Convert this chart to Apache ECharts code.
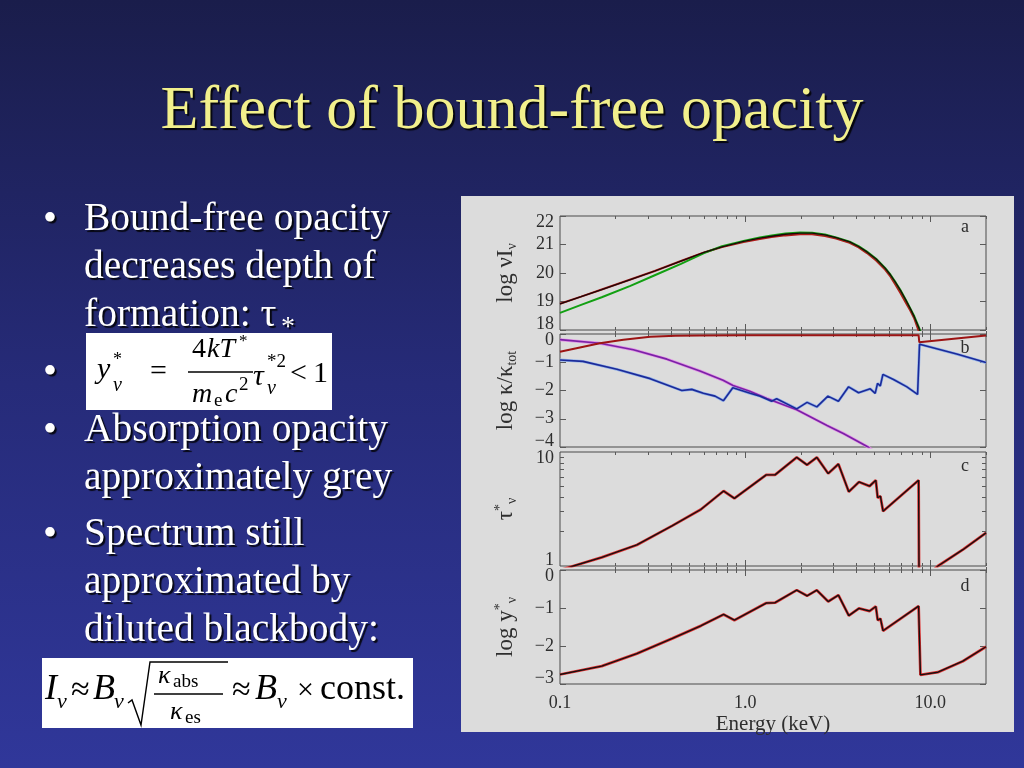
<!DOCTYPE html>
<html><head><meta charset="utf-8">
<script src="https://cdn.jsdelivr.net/npm/echarts@6/dist/echarts.min.js"></script>
<style>html,body{margin:0;padding:0;background:#222766;}#c{width:1024px;height:768px;}</style>
</head><body><div id="c"></div>
<script>
// ---------------- data ----------------
const energyTicksMajor = [0.1, 1, 10];
const energyTicksMinor = [0.2,0.3,0.4,0.5,0.6,0.7,0.8,0.9,2,3,4,5,6,7,8,9,20];
const tauTicksMajor = [1, 10];
const tauTicksMinor = [2,3,4,5,6,7,8,9];

// panel a : log nu I_nu
const nuI_red = [[0.1,18.92],[0.13,19.17],[0.168,19.42],[0.24,19.77],[0.325,20.07],[0.45,20.42],[0.6,20.72],[0.75,20.91],[0.98,21.09],[1.2,21.19],[1.39,21.26],[1.65,21.32],[1.98,21.36],[2.3,21.36],[2.7,21.3],[3.1,21.21],[3.67,21.06],[4.1,20.9],[4.55,20.7],[5.1,20.44],[5.7,20.12],[6.1,19.87],[6.5,19.58],[6.9,19.3],[7.42,18.93],[7.8,18.68],[8.2,18.4],[8.65,17.98],[8.9,17.7]];
const nuI_green = [[0.1,18.6],[0.13,18.88],[0.168,19.15],[0.24,19.55],[0.325,19.92],[0.45,20.32],[0.6,20.7],[0.75,20.94],[0.98,21.12],[1.2,21.25],[1.39,21.32],[1.65,21.39],[1.98,21.42],[2.3,21.41],[2.7,21.35],[3.1,21.25],[3.67,21.1],[4.1,20.94],[4.55,20.75],[5.1,20.5],[5.7,20.18],[6.1,19.94],[6.5,19.67],[6.9,19.4],[7.42,19.03],[7.8,18.76],[8.2,18.48],[8.65,18.12],[9.1,17.75]];
const nuI_black = [[0.1,18.92],[0.13,19.17],[0.168,19.42],[0.24,19.77],[0.325,20.07],[0.45,20.42],[0.6,20.72],[0.75,20.92],[0.98,21.11],[1.2,21.22],[1.39,21.29],[1.65,21.36],[1.98,21.4],[2.3,21.4],[2.7,21.34],[3.1,21.24],[3.67,21.09],[4.1,20.93],[4.55,20.74],[5.1,20.49],[5.7,20.17],[6.1,19.93],[6.5,19.66],[6.9,19.39],[7.42,19.02],[7.8,18.75],[8.2,18.46],[8.65,18.1],[9.05,17.75]];

// panel b : log kappa / kappa_tot
const kap_red = [[0.1,-0.63],[0.13,-0.47],[0.164,-0.33],[0.22,-0.2],[0.307,-0.1],[0.42,-0.06],[0.57,-0.05],[1.0,-0.04],[8.65,-0.04],[8.72,-0.29],[20,-0.05]];
const kap_magenta = [[0.1,-0.2],[0.164,-0.33],[0.249,-0.56],[0.378,-0.89],[0.57,-1.31],[0.76,-1.64],[0.86,-1.82],[1.06,-2.03],[1.31,-2.28],[1.9,-2.68],[2.77,-3.24],[3.39,-3.52],[4.64,-4.01],[5.5,-4.4]];
const kap_blue = [[0.1,-0.92],[0.133,-0.97],[0.203,-1.25],[0.307,-1.58],[0.455,-2.0],[0.515,-1.96],[0.595,-2.1],[0.688,-2.2],[0.763,-2.36],[0.858,-1.9],[1.065,-2.1],[1.205,-2.2],[1.39,-2.38],[1.48,-2.29],[1.9,-2.65],[2.16,-2.42],[2.44,-2.58],[2.8,-2.2],[3.19,-2.38],[3.62,-1.87],[4.1,-2.08],[4.74,-1.94],[5.04,-2.1],[5.19,-1.75],[5.37,-1.84],[5.55,-1.43],[6.33,-1.61],[7.48,-1.87],[8.54,-2.14],[8.75,-0.36],[13.9,-0.71],[20,-1.01]];

// panel c : tau*_nu
const tau_star = [[0.1,0.92],[0.118,1.0],[0.168,1.19],[0.26,1.53],[0.405,2.26],[0.576,3.13],[0.765,4.55],[0.875,3.92],[1.3,6.3],[1.45,6.3],[1.9,8.98],[2.16,7.72],[2.44,8.98],[2.81,6.47],[3.19,7.83],[3.63,4.49],[4.12,5.46],[4.7,5.02],[5.08,5.65],[5.2,3.97],[5.38,4.1],[5.56,3.02],[8.65,5.65],[8.7,0.7],[11,1.0],[15,1.39],[20,1.95]];

// panel d : log y*_nu
const logy_star = [[0.1,-2.75],[0.168,-2.53],[0.26,-2.2],[0.405,-1.8],[0.576,-1.47],[0.765,-1.17],[0.875,-1.32],[1.3,-0.87],[1.45,-0.86],[1.9,-0.53],[2.16,-0.68],[2.44,-0.53],[2.81,-0.83],[3.19,-0.66],[3.63,-1.2],[4.12,-1.01],[4.7,-1.08],[5.08,-0.96],[5.2,-1.32],[5.38,-1.28],[5.56,-1.6],[8.65,-0.95],[8.85,-2.76],[11,-2.69],[15,-2.4],[20,-2.02]];

// texts
const titleText = 'Effect of bound-free opacity';
const bulletText = ['Bound-free opacity','decreases depth of','formation: τ','Absorption opacity','approximately grey','Spectrum still','approximated by','diluted blackbody:'];
const panelLetters = ['a','b','c','d'];
const axisNames = ['log νI{sub|ν}','log κ/κ{sub|tot}','{g|τ}{sup|*}{sub|ν}','log y{sup|*}{sub|ν}'];
const xAxisName = 'Energy (keV)';

// ---------------- layout ----------------
const SERIF = '"Liberation Serif","Times New Roman",serif';
const AX = '#4a4a4a';
const TXT = '#2e2e2e';
const panels = [
  {top:216, height:114, type:'value', min:18, max:22},
  {top:334, height:113, type:'value', min:-4, max:0},
  {top:452, height:114, type:'log',   min:1,  max:10},
  {top:570, height:114, type:'value', min:-3, max:0}
];

function fmtE(v){
  if (Math.abs(v-0.1)<1e-6) return '0.1';
  if (Math.abs(v-1)<1e-6) return '1.0';
  if (Math.abs(v-10)<1e-6) return '10.0';
  return '';
}
function fmtY(min,max){
  return function(v){
    const r = Math.round(v);
    const s = r<0 ? '\u2212'+Math.abs(r) : String(r);
    if (Math.abs(v-max)<1e-6) return '{hi|'+s+'}';
    if (Math.abs(v-min)<1e-6) return '{lo|'+s+'}';
    return s;
  };
}
const labRich = {
  hi:{fontFamily:SERIF,fontSize:18,color:TXT,padding:[12,0,0,0]},
  lo:{fontFamily:SERIF,fontSize:18,color:TXT,padding:[0,0,12,0]}
};
const nameRich = {
  sub:{fontFamily:SERIF,fontSize:14,color:TXT,verticalAlign:'bottom',lineHeight:12},
  sup:{fontFamily:SERIF,fontSize:14,color:TXT,verticalAlign:'top',lineHeight:12},
  g:{fontFamily:SERIF,fontSize:23,color:TXT,lineHeight:26}
};

const grid=[], xAxis=[], yAxis=[], yLeft=[];
panels.forEach((p,i)=>{
  grid.push({left:560, width:426, top:p.top, height:p.height, show:true, borderColor:AX, borderWidth:1,
             backgroundColor:'rgba(0,0,0,0)', containLabel:false, outerBoundsMode:'none'});
  const last = i===panels.length-1;
  const xb = () => ({type:'log', logBase:10, gridIndex:i, min:0.1, max:20,
    axisLine:{show:false}, splitLine:{show:false}, axisLabel:{show:false}});
  const tk = (vals,len)=>({show:true, inside:true, length:len, customValues:vals, lineStyle:{color:'#5a5a5a',width:1}});
  xAxis.push(Object.assign(xb(), {position:'bottom', axisTick:tk([1,10],6),
    axisLabel: last ? {show:true, customValues:energyTicksMajor, formatter:fmtE, fontFamily:SERIF, fontSize:18, color:TXT, margin:10} : {show:false},
    name: last ? xAxisName : '', nameLocation:'middle', nameGap:30,
    nameTextStyle:{fontFamily:SERIF, fontSize:21, color:TXT}}));
  xAxis.push(Object.assign(xb(), {position:'bottom', axisTick:tk(energyTicksMinor,3)}));
  xAxis.push(Object.assign(xb(), {position:'top', axisTick:tk([1,10],6)}));
  xAxis.push(Object.assign(xb(), {position:'top', axisTick:tk(energyTicksMinor,3)}));

  const common = {gridIndex:i, min:p.min, max:p.max, splitLine:{show:false}, axisLine:{show:false}};
  const nm = {name:axisNames[i], nameLocation:'middle', nameRotate:90, nameGap:41,
      nameTextStyle:{fontFamily:SERIF, fontSize:23, color:TXT, lineHeight:26, rich:nameRich}};
  yLeft.push(yAxis.length);
  if (p.type==='value'){
    yAxis.push(Object.assign({type:'value', interval:1, position:'left'}, common, nm, {
      axisTick:{show:true, inside:true, length:6, lineStyle:{color:'#5a5a5a'}},
      axisLabel:{show:true, formatter:fmtY(p.min,p.max), fontFamily:SERIF, fontSize:18, color:TXT, margin:6, rich:labRich}}));
    yAxis.push(Object.assign({type:'value', interval:1, position:'right'}, common, {
      axisTick:{show:true, inside:true, length:6, lineStyle:{color:'#5a5a5a'}}, axisLabel:{show:false}}));
  } else {
    yAxis.push(Object.assign({type:'log', logBase:10, position:'left'}, common, nm, {
      axisTick:{show:true, inside:true, length:4, customValues:tauTicksMinor, lineStyle:{color:'#5a5a5a'}},
      axisLabel:{show:true, customValues:tauTicksMajor, formatter:fmtY(p.min,p.max), fontFamily:SERIF, fontSize:18, color:TXT, margin:6, rich:labRich}}));
    yAxis.push(Object.assign({type:'log', logBase:10, position:'right'}, common, {
      axisTick:{show:true, inside:true, length:4, customValues:tauTicksMinor, lineStyle:{color:'#5a5a5a'}}, axisLabel:{show:false}}));
  }
});

function line(data, panel, color, width, z){
  return {type:'line', data:data, xAxisIndex:panel*4, yAxisIndex:yLeft[panel], showSymbol:false, symbol:'none',
          lineStyle:{color:color, width:width}, itemStyle:{color:color}, z:z||2, clip:true, silent:true, animation:false};
}
const series = [
  line(nuI_red, 0, '#b01818', 2, 2),
  line(nuI_green, 0, '#12a012', 2, 3),
  line(nuI_black, 0, '#1a0808', 1.3, 4),
  line(kap_magenta, 1, '#e290e6', 3, 2),
  line(kap_magenta, 1, '#7a22a6', 1.6, 3),
  line(kap_blue, 1, '#8fb0ea', 2.8, 2),
  line(kap_blue, 1, '#1c2a98', 1.6, 3),
  line(kap_red, 1, '#9c1414', 2, 4),
  line(tau_star, 2, '#e03030', 2.8, 2),
  line(tau_star, 2, '#151010', 1.4, 3),
  line(logy_star, 3, '#e03030', 2.8, 2),
  line(logy_star, 3, '#151010', 1.4, 3)
];

// ---------------- slide graphics ----------------
const SH = 'rgba(0,0,0,0.85)';
function T(x,y,s,font,o){
  o=o||{};
  return {type:'text', x:x, y:y, z:o.z||50, silent:true,
    style:{text:s, font:font, fill:o.fill||'#ffffff', align:o.align||'left', verticalAlign:'middle',
      textShadowColor:o.shadow?SH:'transparent', textShadowOffsetX:o.shadow?2:0, textShadowOffsetY:o.shadow?2:0, textShadowBlur:o.shadow?1:0}};
}
const g = [];
g.push({type:'rect', z:-10, silent:true, shape:{x:0,y:0,width:1024,height:768},
  style:{fill:new echarts.graphic.LinearGradient(0,0,0,1,[{offset:0,color:'#1a1d4b'},{offset:0.5,color:'#262b79'},{offset:1,color:'#30379a'}])}});
g.push({type:'rect', z:-9, silent:true, shape:{x:461,y:196,width:553,height:536}, style:{fill:'#dcdcdc'}});
g.push(T(512,112,titleText,'62px '+SERIF,{fill:'#f2f08c',align:'center',shadow:true}));

const lineY = [220,268,316,431,479,535,583,631];
const bulletAt = [220,373,431,535];
bulletText.forEach((s,k)=>g.push(T(84,lineY[k],s,'39.5px '+SERIF,{shadow:true})));
bulletAt.forEach(y=>g.push(T(50,y,'\u2022','40px '+SERIF,{align:'center',shadow:true})));
g.push(T(281,328,'*','28px '+SERIF,{shadow:true}));

// formula 1
const FI = s=>'italic '+s+'px '+SERIF, FR = s=>s+'px '+SERIF, K = {fill:'#000'};
g.push({type:'rect', z:40, silent:true, shape:{x:86,y:333,width:246,height:77}, style:{fill:'#ffffff'}});
[
  ['y',97,370,FI(30)],['*',113,360,FR(18)],['ν',113,386,FI(20)],['=',150,372,FR(30)],
  ['4',192,350,FR(28)],['kT',207,350,FI(28)],['*',239,342,FR(17)],
  ['m',192,395,FI(28)],['e',214,401,FR(19)],['c',225,395,FI(28)],['2',239,385,FR(19)],
  ['τ',253,377,FI(30)],['*2',267,362,FR(19)],['ν',267,389,FI(20)],
  ['<',290,374,FR(30)],['1',313,374,FR(30)]
].forEach(a=>g.push(T(a[1],a[2],a[0],a[3],K)));
g.push({type:'line', z:51, silent:true, shape:{x1:188,y1:372,x2:253,y2:372}, style:{stroke:'#000',lineWidth:1.3}});

// formula 2
g.push({type:'rect', z:40, silent:true, shape:{x:42,y:658,width:371,height:70}, style:{fill:'#ffffff'}});
[
  ['I',45,690,FI(36)],['ν',57,702,FI(22)],['≈',71,691,FR(34)],['B',93,690,FI(36)],['ν',114,702,FI(22)],
  ['κ',158,676,FI(26)],['abs',173,682,FR(19)],['κ',170,712,FI(26)],['es',185,718,FR(19)],
  ['≈',232,691,FR(34)],['B',255,690,FI(36)],['ν',277,702,FI(22)],['×',297,691,FR(30)],['const.',320,690,FR(36)]
].forEach(a=>g.push(T(a[1],a[2],a[0],a[3],K)));
g.push({type:'line', z:51, silent:true, shape:{x1:154,y1:694,x2:223,y2:694}, style:{stroke:'#000',lineWidth:1.3}});
g.push({type:'polyline', z:51, silent:true, shape:{points:[[128,703],[132,700],[141,725],[150,662],[228,662]]}, style:{stroke:'#000',lineWidth:1.4,fill:null}});

// panel letters
const letterY = [227,348,466,586];
panelLetters.forEach((s,k)=>g.push(T(965,letterY[k],s,'18px '+SERIF,{fill:TXT,align:'center'})));

const chart = echarts.init(document.getElementById('c'), null, {renderer:'canvas', width:1024, height:768});
chart.setOption({animation:false, grid:grid, xAxis:xAxis, yAxis:yAxis, series:series, graphic:{elements:g}});
</script></body></html>
